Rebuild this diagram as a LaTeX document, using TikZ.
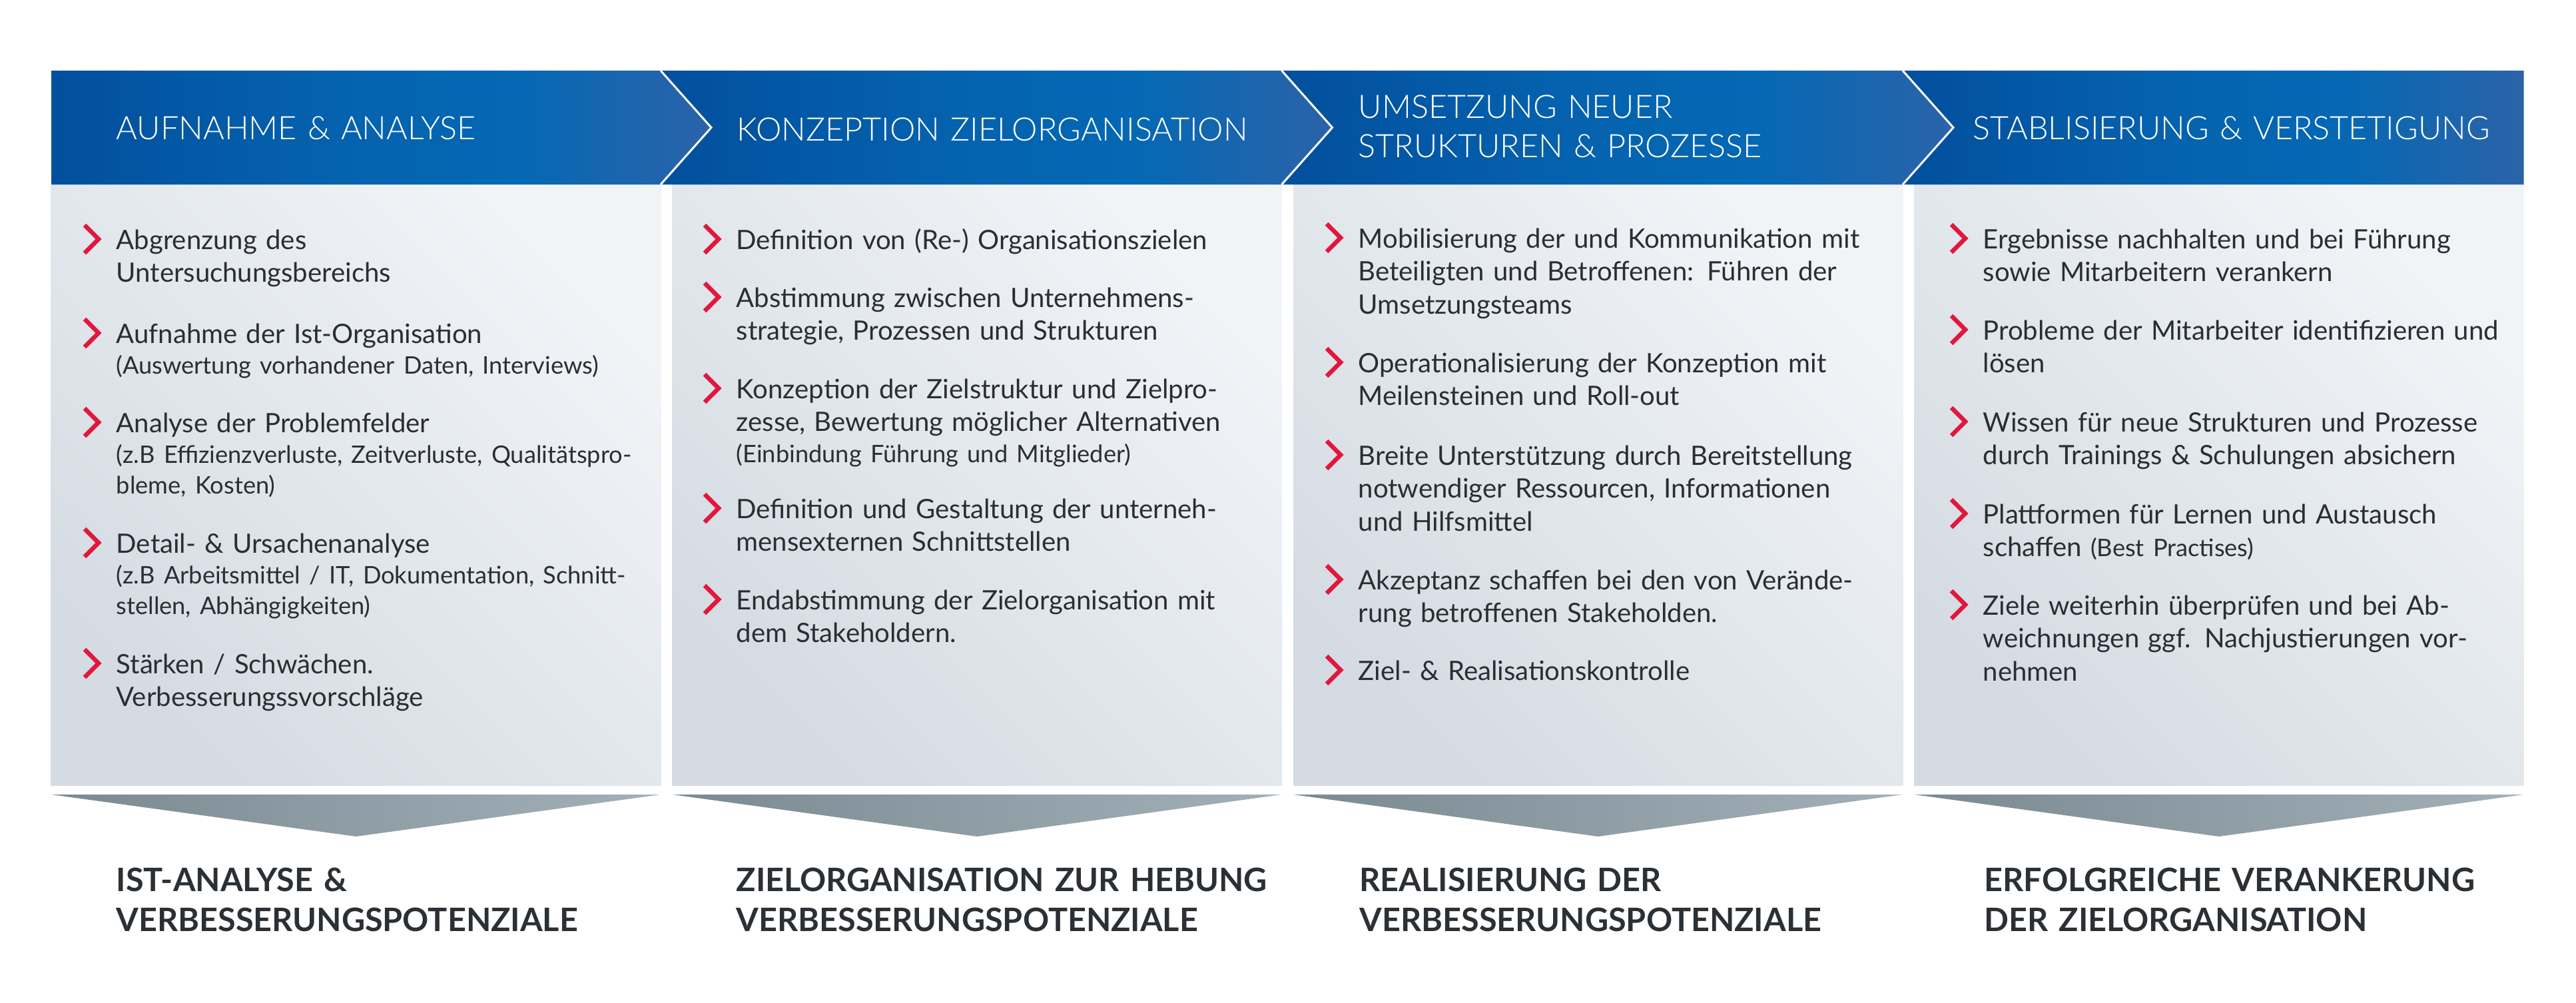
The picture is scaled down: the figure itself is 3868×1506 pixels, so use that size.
\documentclass[tikz,border=0pt]{standalone}
\usepackage{fontspec}
\setmainfont{Lato}
\newfontfamily\lightfont{Lato Light}
\usetikzlibrary{shapes, calc}
\definecolor{hdA}{HTML}{024F9D}
\definecolor{hdB}{HTML}{0561AD}
\definecolor{hdC}{HTML}{0468B4}
\definecolor{hdD}{HTML}{2B63A9}
\definecolor{pnlT}{HTML}{F1F4F7}
\definecolor{pnlB}{HTML}{D4DBE2}
\definecolor{triL}{HTML}{7B8A91}
\definecolor{triR}{HTML}{A3B0B7}
\definecolor{bulred}{HTML}{E2173D}
\definecolor{txt}{HTML}{2A2E33}
\definecolor{lbl}{HTML}{2B3035}
\pgfdeclarehorizontalshading{hdrblue}{100bp}{color(0bp)=(hdA); color(25bp)=(hdA);
  color(45bp)=(hdB); color(60bp)=(hdC); color(75bp)=(hdD); color(100bp)=(hdD)}
\newcommand{\bodyfont}{\fontsize{11.4}{14.2}\selectfont}
\newcommand{\smallfont}{\fontsize{10.3}{13.1}\selectfont}
\newcommand{\hdfont}{\lightfont\fontsize{13.8}{16.8}\selectfont}
\newcommand{\lblfont}{\bfseries\fontsize{13.8}{16.8}\selectfont}
\newcommand{\jl}[2][7.66cm]{\makebox[#1][s]{#2}\\}
\tikzstyle{panel}=[inner sep=0pt, minimum width=9.15cm,
    minimum height=9.02cm, top color=pnlT, bottom color=pnlB, shading angle=-45]
\tikzstyle{item}=[anchor=base west, inner sep=0pt, text width=7.66cm,
    align=left, text=txt, font=\bodyfont]
\tikzstyle{wideitem}=[anchor=base west, inner sep=0pt, text width=7.96cm,
    align=left, text=txt, font=\bodyfont]
\tikzstyle{hd}=[anchor=base west, inner sep=0pt, text width=8.6cm,
    align=left, text=white, font=\hdfont]
\tikzstyle{res}=[anchor=base west, inner sep=0pt, text width=8.6cm,
    align=left, text=lbl, font=\lblfont]
\tikzstyle{chev}=[draw=bulred, line width=0.065cm]
\tikzstyle{tri}=[left color=triL, right color=triR]
\def\colstep{932.5}
\newcommand{\bul}[1]{\draw[chev] ([shift={(-47,-36)}]#1.base west) -- ++(21,21) -- ++(-21,21);}

\begin{document}
\begin{tikzpicture}[x=0.01cm, y=-0.01cm]
    \useasboundingbox (0,0) rectangle (3868,1506);
    % body panels
    \node (b1) [panel] at (534.5,728) {};
    \path (b1)+(\colstep,0) node (b2) [panel] {};
    \path (b2)+(\colstep,0) node (b3) [panel] {};
    \path (b3)+(\colstep,0) node (b4) [panel] {};
    % header band
    \shade[shading=hdrblue] (77,106) -- (992,106) -- (1068,191.5) -- (992,277) -- (77,277) -- cycle;
    \shade[shading=hdrblue] (992,106) -- (1924.5,106) -- (2000.5,191.5) -- (1924.5,277)
        -- (992,277) -- (1068,191.5) -- cycle;
    \shade[shading=hdrblue] (1924.5,106) -- (2857,106) -- (2933,191.5) -- (2857,277)
        -- (1924.5,277) -- (2000.5,191.5) -- cycle;
    \shade[shading=hdrblue] (2857,106) -- (3789.5,106) -- (3789.5,277) -- (2857,277)
        -- (2933,191.5) -- cycle;
    \draw[white, line width=0.03cm] (992,106) -- (1068,191.5) -- (992,277);
    \draw[white, line width=0.03cm] (1924.5,106) -- (2000.5,191.5) -- (1924.5,277);
    \draw[white, line width=0.03cm] (2857,106) -- (2933,191.5) -- (2857,277);
    \path (b1.north west)+(98,-67) node (h1) [hd] {AUFNAHME \& ANALYSE};
    \path (b2.north west)+(97.5,-65) node (h2) [hd] {KONZEPTION ZIELORGANISATION};
    \path (b3.north west)+(98,-99) node (h3) [hd] {UMSETZUNG NEUER\\STRUKTUREN \& PROZESSE};
    \path (b4.north west)+(88.5,-67) node (h4) [hd] {STABLISIERUNG \& VERSTETIGUNG};
    % column 1
    \path (b1.north west)+(98,98) node (i11) [wideitem]
        {Abgrenzung des\\Untersuchungsbereichs};
    \path (b1.north west)+(98,239) node (i12) [wideitem]
        {Aufnahme der Ist-Organisation\par{\smallfont (Auswertung vorhandener Daten, Interviews)\par}};
    \path (b1.north west)+(98,373) node (i13) [wideitem]
        {Analyse der Problemfelder\par{\smallfont\jl[7.96cm]{(z.B Effizienzverluste, Zeitverluste, Qualitätspro-}bleme, Kosten)\par}};
    \path (b1.north west)+(98,554) node (i14) [wideitem]
        {Detail- \& Ursachenanalyse\par{\smallfont\jl[7.96cm]{(z.B Arbeitsmittel / IT, Dokumentation, Schnitt-}stellen, Abhängigkeiten)\par}};
    \path (b1.north west)+(98,735) node (i15) [wideitem]
        {Stärken / Schwächen.\\Verbesserungssvorschläge};
    % column 2
    \path (b2.north west)+(96.5,98) node (i21) [item] {Definition von (Re-) Organisationszielen};
    \path (b2.north west)+(96.5,185) node (i22) [item]
        {\jl{Abstimmung zwischen Unternehmens-}strategie, Prozessen und Strukturen};
    \path (b2.north west)+(96.5,322) node (i23) [item]
        {\jl{Konzeption der Zielstruktur und Zielpro-}zesse, Bewertung möglicher Alternativen\par{\smallfont (Einbindung Führung und Mitglieder)\par}};
    \path (b2.north west)+(96.5,502) node (i24) [item]
        {\jl{Definition und Gestaltung der unterneh-}mensexternen Schnittstellen};
    \path (b2.north west)+(96.5,639) node (i25) [item]
        {\jl{Endabstimmung der Zielorganisation mit}dem Stakeholdern.};
    % column 3
    \path (b3.north west)+(98,96) node (i31) [item]
        {\jl{Mobilisierung der und Kommunikation mit}\jl{Beteiligten und Betroffenen: Führen der}Umsetzungsteams};
    \path (b3.north west)+(98,283) node (i32) [item]
        {\jl{Operationalisierung der Konzeption mit}Meilensteinen und Roll-out};
    \path (b3.north west)+(98,422) node (i33) [item]
        {\jl{Breite Unterstützung durch Bereitstellung}\jl{notwendiger Ressourcen, Informationen}und Hilfsmittel};
    \path (b3.north west)+(98,609) node (i34) [item]
        {\jl{Akzeptanz schaffen bei den von Verände-}rung betroffenen Stakeholden.};
    \path (b3.north west)+(98,745) node (i35) [item] {Ziel- \& Realisationskontrolle};
    % column 4
    \path (b4.north west)+(103.5,97) node (i41) [item]
        {\jl{Ergebnisse nachhalten und bei Führung}sowie Mitarbeitern verankern};
    \path (b4.north west)+(103.5,234) node (i42) [item]
        {\jl{Probleme der Mitarbeiter identifizieren und}lösen};
    \path (b4.north west)+(103.5,372) node (i43) [item]
        {\jl{Wissen für neue Strukturen und Prozesse}durch Trainings \& Schulungen absichern};
    \path (b4.north west)+(103.5,510) node (i44) [item]
        {\jl{Plattformen für Lernen und Austausch}schaffen {\smallfont (Best Practises)}};
    \path (b4.north west)+(103.5,647) node (i45) [item]
        {\jl{Ziele weiterhin überprüfen und bei Ab-}\jl{weichnungen ggf. Nachjustierungen vor-}nehmen};
    % red bullets
    \bul{i11} \bul{i12} \bul{i13} \bul{i14} \bul{i15}
    \bul{i21} \bul{i22} \bul{i23} \bul{i24} \bul{i25}
    \bul{i31} \bul{i32} \bul{i33} \bul{i34} \bul{i35}
    \bul{i41} \bul{i42} \bul{i43} \bul{i44} \bul{i45}
    % result arrows
    \shade[tri] (77,1193) -- (992,1193) -- (534.5,1256) -- cycle;
    \shade[tri] (1009.5,1193) -- (1924.5,1193) -- (1467,1256) -- cycle;
    \shade[tri] (1942,1193) -- (2857,1193) -- (2399.5,1256) -- cycle;
    \shade[tri] (2874.5,1193) -- (3789.5,1193) -- (3332,1256) -- cycle;
    \path (b1.south west)+(98,159) node (r1) [res] {IST-ANALYSE \&\\VERBESSERUNGSPOTENZIALE};
    \path (b2.south west)+(96.5,159) node (r2) [res] {ZIELORGANISATION ZUR HEBUNG\\VERBESSERUNGSPOTENZIALE};
    \path (b3.south west)+(100,159) node (r3) [res] {REALISIERUNG DER\\VERBESSERUNGSPOTENZIALE};
    \path (b4.south west)+(105.5,159) node (r4) [res] {ERFOLGREICHE VERANKERUNG\\DER ZIELORGANISATION};
\end{tikzpicture}
\end{document}
